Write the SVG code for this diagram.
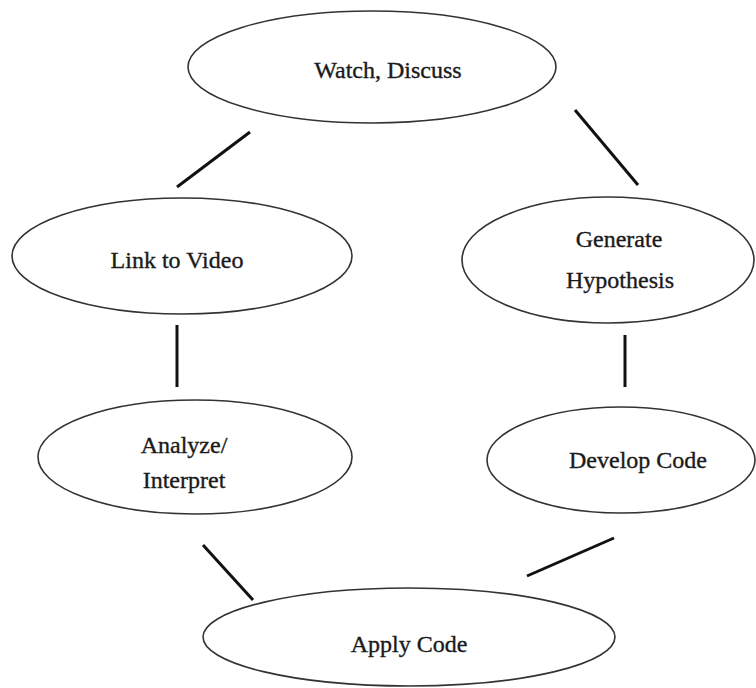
<svg xmlns="http://www.w3.org/2000/svg" width="756" height="688" viewBox="0 0 756 688">
<style>
.node ellipse{fill:#fff;stroke:#333;stroke-width:1.6}
.node text{font-family:"Liberation Serif","Times New Roman",serif;font-size:24px;fill:#1a1a1a;stroke:#1a1a1a;stroke-width:0.35;text-anchor:middle}
.conn line{stroke:#111;stroke-width:3;stroke-linecap:butt}
</style>
<rect width="756" height="688" fill="#fff"/>
<g id="connectors" class="conn">
<line x1="177" y1="187" x2="250" y2="132"/>
<line x1="575" y1="110" x2="638" y2="185"/>
<line x1="177" y1="325" x2="177" y2="387"/>
<line x1="625" y1="335" x2="625" y2="387"/>
<line x1="203" y1="545" x2="253" y2="600"/>
<line x1="527" y1="576" x2="614" y2="538"/>
</g>
<g id="watch" class="node">
<ellipse cx="372" cy="67" rx="184" ry="56"/>
<text x="388" y="78">Watch, Discuss</text>
</g>
<g id="link" class="node">
<ellipse cx="182" cy="256" rx="170" ry="58"/>
<text x="177" y="268">Link to Video</text>
</g>
<g id="generate" class="node">
<ellipse cx="608" cy="260" rx="146" ry="63"/>
<text x="619" y="247">Generate</text>
<text x="620" y="288">Hypothesis</text>
</g>
<g id="analyze" class="node">
<ellipse cx="195" cy="457" rx="157" ry="57"/>
<text x="184" y="453">Analyze/</text>
<text x="184" y="488">Interpret</text>
</g>
<g id="develop" class="node">
<ellipse cx="621" cy="460" rx="134" ry="53"/>
<text x="638" y="468">Develop Code</text>
</g>
<g id="apply" class="node">
<ellipse cx="409" cy="637" rx="206" ry="49"/>
<text x="409" y="652">Apply Code</text>
</g>
</svg>
